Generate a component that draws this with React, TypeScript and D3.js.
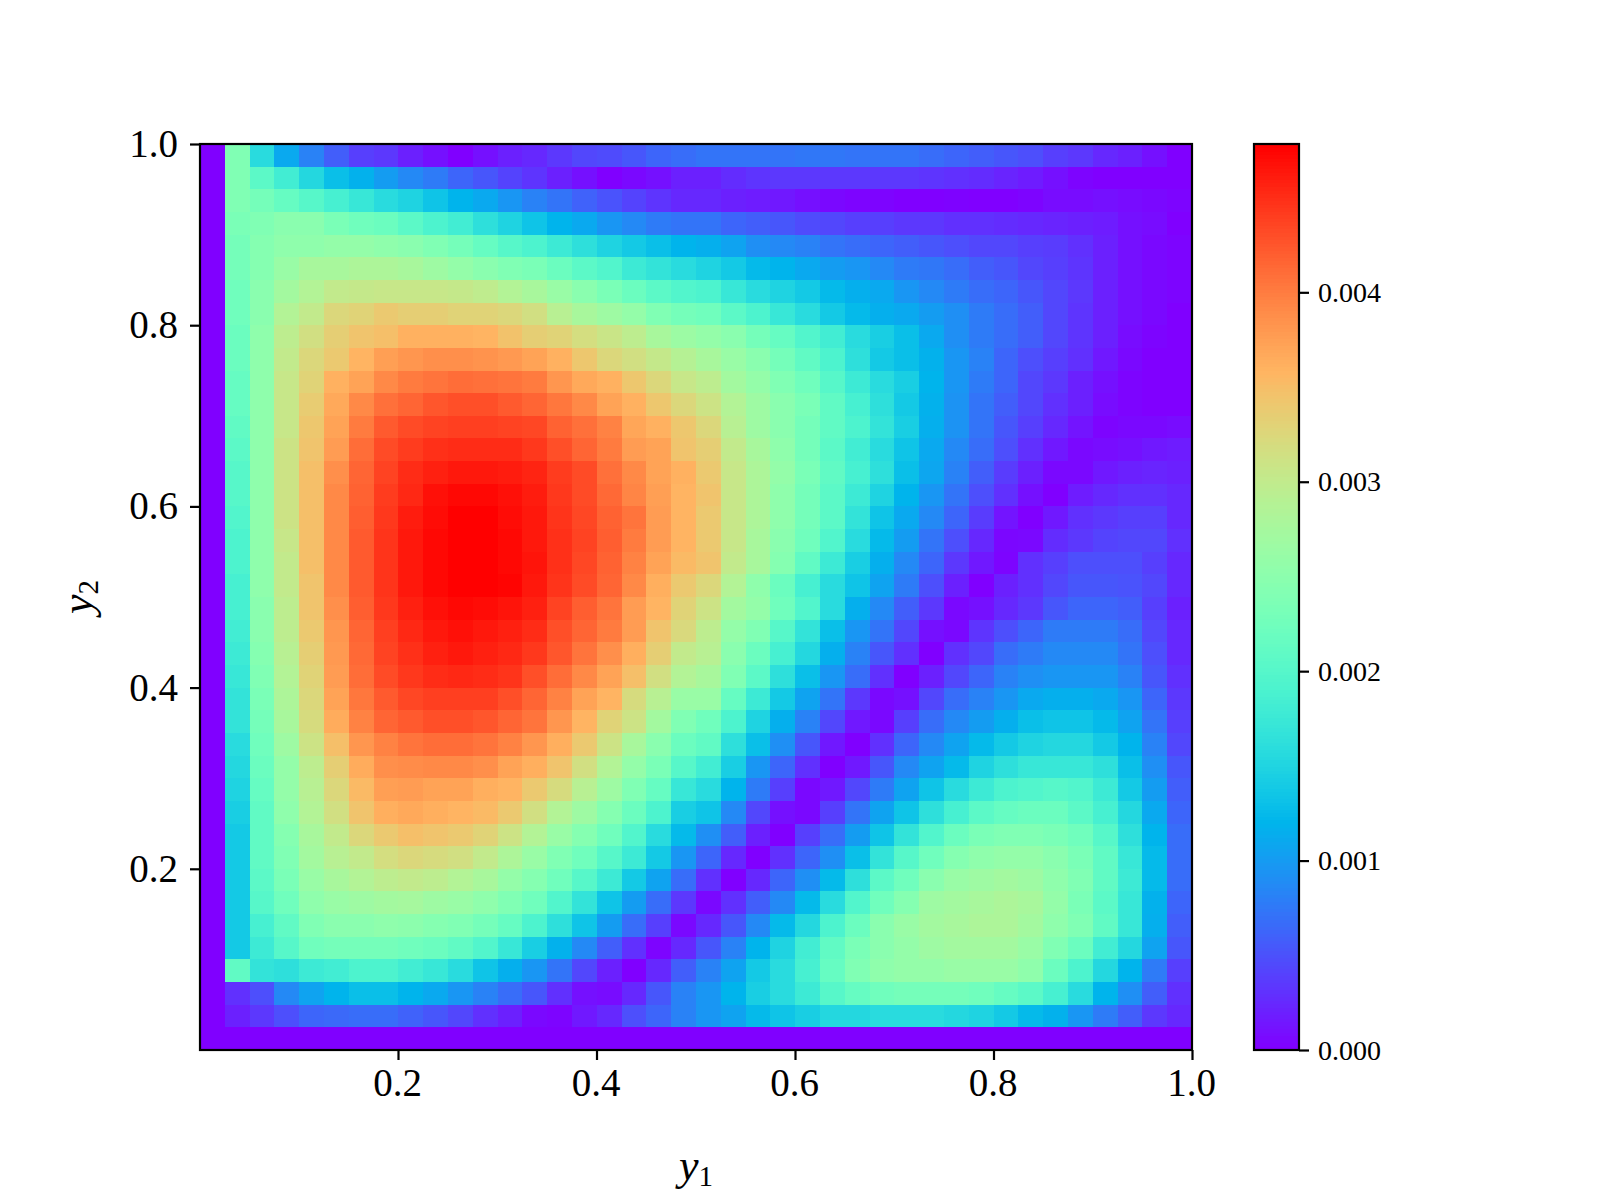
import React, { useEffect, useRef } from 'react';
import * as d3 from 'd3';

// cell values as percent of the colour range, top row first
const VMAX = 0.004783;
const cellRows: number[][] = [
  [0,50,33,23,17,12,8,7,4,2,0,2,4,5,7,9,9.5,11,13,14,15,15,15,15,15.5,15.5,15,15,15,14,13,12,11,10,8,7,5,4,2,0],
  [0,50,43,38,32,27,24.5,21,18,16,13,11,8.5,6.5,4,2,0,1,2,4,4,5.5,6.5,7,7,7,7,7,7,6.5,6,5.5,4.5,3.5,2,0.5,0,0,0,0],
  [0,50,48,45,42,39,36,33,31,28,25,23,20,17,15,12.5,10.5,8.5,6.5,5,5,4,3.5,3,2,1,0.5,0.5,0,0,0.3,0,0,0.5,1.5,1.5,2,1.5,1,0.5],
  [0,49,50,52,52,49,47,46,43,40,38,34,31,28,25,23,20,18,16,15,15,13,12,11,9.5,9,8,8,7,7,6,6,5.5,5,4.5,4,3.5,2,1.5,0],
  [0,48,51,53,53,54,54,53,52,50,48,45,42,40,37,34,31,29,27,25,24,22,19,18,17,15,14,13,12,11,10,9,9,8,7.5,6,4,2,1,0.5],
  [0,48,51,55,58,58,59,59,58,56,54,52,50,49,46,43,41,37,35,33,31,29,26,25,23,21,20,18,16,15.5,14,12,11,9,8,6.5,4,2,1,0.5],
  [0,47,52,57,60,63,63.5,64,64,64,63.5,62.5,60,58,55,52,49,46,43,41,40,36,33,31,29,26,24,23,20,18,16,14,13,11,9,7,4,2,1,0.5],
  [0,47,52,60,63,68,69,71,70,70,69,69,68,66,61,58,56,54,50,48,47,43,40,36,33,29,26,24,23,21,19,16,14,12,9,6.5,4,2,1,0],
  [0,46,53,62,66,70,72,73,75.5,75.5,75.5,75,72.5,70,69,66.5,64.5,62,58,55.5,54,52,48,45,41,38,33,30,27,23,19,16,14,12,9,6.5,4,1.5,0.5,0],
  [0,46,53,63,68,71,75,78.5,80,81,81,80.5,79.5,78,75.5,71.5,68,66,63.5,60.5,58,55,52,48,44,40,34,29,27,24.5,20,17,13,10,8,6,3,1,0,0],
  [0,45,53,64,69,75.5,78,82,84,85,86,85.5,85,84,80,77,75.5,71.5,68,64,62,57,54,50,47,42,37,33,30,25,20,16,13,9,7,4,2,0.5,0,0],
  [0,45,53,64,70.5,77,82,85.5,87,89,90,90,88.5,87,84.5,82,78,75.5,71.5,68,65,60,56,52,49,44,39,34,29,24.5,19.5,15,12,9,6,4,1.5,0.5,0,0],
  [0,44,53,64,71.5,78,84,88.5,90.5,91.5,92,92,91.5,91,87.5,85.5,83,77.5,75.5,71.5,68,61,56,52,48,44,40,35,30,24,19.5,15,11,8,5,2.5,0.5,1,1,1.5],
  [0,43,53,65,72,79,86,90.5,92.5,94,94.5,94.5,94.5,93,90,87,84,79,78,72,70,63,58,53,48,43,38,33,28,23,18,14,10,6,3,1,1.5,2,3,3.5],
  [0,42,53,65,73,81,87,91.5,94.5,96,97,97,96.5,95.5,92.5,90.5,85.5,82,78,75.5,71,64,59,54,49,44,39,34,27,22.5,17,12,7.5,4,1,1,3,4,4.5,4],
  [0,42,53,65,73,82,87.5,92.5,95,98,99,99,98,96.5,93,90.5,86.5,82.5,78.5,75,72,64,59,53,48,43,37,31,25,20,15,10,6,2,0,3.5,5,6,6,5],
  [0,41,53,65,73,82,88,93,96.5,98.5,100,100,98.5,97,93.5,91,87.5,85,79,75,71,64,59,53,48,43,35,28,23,18,13,7.5,2.5,0,3,6,7,8,8,5],
  [0,40,53,64,73,82,88.5,93.5,97,99,100,100,99,97,94,91.5,88,84,79,75,71,64,58,52,47,41,33,26,21,15,10,5,0.8,1,5.5,7,8.5,9,9,6],
  [0,40,53,63,73,82,88.5,93.5,97,99,100,100,99,97.5,94,91,87.5,83,78,74,72,63,58,51,44,37,30,24,18,13,7,3,0.5,6,8,10,10,10,8,5],
  [0,39,53,63,72,82,88.5,93.5,97,99,100,100,99.5,97,93.5,90.5,87,82,76,71,68,60,53,46,39,33,28,22,16,10,4,0,4,6,9,11,11,10.5,9,5],
  [0,39,52,62,72,81,88,93,96,98,99,98.5,97.5,96,91.5,88,85,79,75,69,65,57,54,47,41,33,24,18,12,7,1,2,5,7,11,13,13,12,8,4],
  [0,38,52,62,71,80,87,92,95,97,98,97,96,94.5,90,87,84,79,72,67.5,62,54,50,42,35,27,20,15,9,2,1,6.5,10,13,16,16,16,14,9,5],
  [0,37,51,61,70,79.5,86.5,91.5,94,96,97,96,95,93,89,85,81,76,70,63,61,52,46,39,32,24,17,11,6,0,6,9,14,16,18,18,18,15,10,5],
  [0,36,50,60,69,79,86,90.5,93,94.5,95,94.5,93.5,90,86,82,78,73,66,60,58,50,43,34,27,20,14,6,0,4,9,13,17,19,20,20,20,17,11,6],
  [0,35,49,59,68,78,84.5,88.5,91,92,92,92,90,87,83,78,75,67,61,55,55,45,37,29,22,15,7,1,2,9,14,17,20,23,24,24,23,20,13,7],
  [0,35,48,58,67,76.5,83,87,88.5,90,90,89,87,85,80,75,69,65,57,50,47,40,31,24,17,9,3,1,8,14,18,21,24,27,28,28,26,22,15,8],
  [0,33,47,56,65,73,80,83,85,86,86,85,83,80,76,71,65,58,52,46,44,34,27,19,11,3,0,6,13,18,22,26,29,31,32,32,29,25,17,9],
  [0,32,46,54,62,70,76.5,81,81.5,82,82,81,78,76,72,66,60,54,49,42,38,30,20,13,6,0,3,11,18,22,26,31,34,36,36,36,34,27,19,11],
  [0,31,45,54,61,68,74,78.5,79,78,78,76,75,71,67,61,56,50,45,36,33,25,16,8,1,3,9,16,22,28,33,37,40,41,42,41,37,29,21,12],
  [0,30,44,53,60,66,72,76,77,76,75,74,71,66,60,56,51,46,40,30,28,18,9,2,1,8,15,22,28,34,39,43,45,46,46,43,39,32,23,13],
  [0,29,44,51,58,63,68,71,73,72,71,69,65,60,55,51,47,41,33,26,19,12,4,0,8,14,21,28,35,41,46,49,50,50,49,47,42,34,25,14],
  [0,29,44,50,57,61,63,66.5,68,67,66,63,59,55,50,47,42,37,29,20,13,5,0,6,13,19,27,35,42,47,51,53,54,54,52,49,44,36,26,14],
  [0,29,43,49,55,58,60,62,63,62,60,58,54,51,47,42,37,29,22,14,6,0,5,13,19,26,34,43,47,52,55,56,57,56,53,50,44,37,26,14],
  [0,29,42,47,53,55,56,57,57.5,56,55,53,50,47,41,35,28,21,14,7,1,6,12,18,26,33,41,47,51,56,57,58,59,58,54,49,43,36,24.5,13],
  [0,29,39,44,50,52,52,53,52.5,51,50,48,45,40,34,28,21,14,8,1,5,11,18,26,32,40,46,52,55,57,58,59,59,57,53,50,44,36,24,12],
  [0,29,37,42,47,48,48,48,47,46,44,41,36,30,24.5,18,12,6,0.5,5,11,17,25,31,38,44,49,52,54,56,57,57,57,55,50,46,38,32,22,11],
  [0,44,35,34,37,38,40,40,38,36,33,28,24,20,15,9,4,0,5,12,17,22,29,33,39,45,50,53,54,54,55,55,55,53,46,40,32,25,16,8],
  [0,6,10,18,22,25,27,27,25,23,20,17,14,11,6,2,1.5,5,11,17,20,25,30,33,37,42,45,47,48,48,48,47,45,43,39,33,25,19,12,6],
  [0,4,7,10,13,13.5,14,14,12.5,11,9,6,4,1,0.5,3,5,10,13,17,20,22,26,28,30,32,32,33,33,33,32,31,29,26,24.5,20,16,12,7,5],
  [0,0,0,0,0,0,0,0,0,0,0,0,0,0,0,0,0,0,0,0,0,0,0,0,0,0,0,0,0,0,0,0,0,0,0,0,0,0,0,0],
];

const axisTicks = [0.2, 0.4, 0.6, 0.8, 1.0];
const colorbarTicks = [0, 0.001, 0.002, 0.003, 0.004];

// matplotlib "rainbow"
const rainbow = (t: number) => {
  const r = Math.min(1, Math.abs(2 * t - 0.5));
  const g = Math.sin(Math.PI * t);
  const b = Math.cos((Math.PI * t) / 2);
  return d3.rgb(r * 255, g * 255, b * 255).formatHex();
};

const SERIF = '"Liberation Serif", serif';

const App: React.FC = () => {
  const svgRef = useRef<SVGSVGElement>(null);

  useEffect(() => {
    const svg = d3.select(svgRef.current);
    svg.selectAll('*').remove();

    const left = 200, right = 1192, top = 144, bottom = 1050;
    const barLeft = 1254, barRight = 1299;

    const color = d3.scaleSequential(rainbow).domain([0, VMAX]);
    const x = d3.scaleLinear().domain([0.0005, 1]).range([left, right]);
    const y = d3.scaleLinear().domain([0, 1]).range([bottom, top]);
    const col = d3.scaleLinear().domain([0, 40]).range([left, right]);
    const row = d3.scaleLinear().domain([0, 40]).range([top, bottom]);
    const barY = d3.scaleLinear().domain([0, VMAX]).range([bottom, top]);

    // heatmap cells
    svg.append('g')
      .attr('shape-rendering', 'crispEdges')
      .selectAll('g')
      .data(cellRows)
      .join('g')
      .each(function (values, i) {
        d3.select(this)
          .selectAll('rect')
          .data(values)
          .join('rect')
          .attr('x', (_, j) => col(j))
          .attr('y', row(i))
          .attr('width', col(1) - col(0) + 0.5)
          .attr('height', row(1) - row(0) + 0.5)
          .attr('fill', d => color((d / 100) * VMAX));
      });

    // colorbar
    const levels = d3.range(256);
    svg.append('g')
      .attr('shape-rendering', 'crispEdges')
      .selectAll('rect')
      .data(levels)
      .join('rect')
      .attr('x', barLeft)
      .attr('width', barRight - barLeft)
      .attr('y', d => barY(((d + 1) / 256) * VMAX))
      .attr('height', (bottom - top) / 256 + 0.5)
      .attr('fill', d => rainbow(d / 255));

    // frames
    svg.append('rect')
      .attr('x', left).attr('y', top)
      .attr('width', right - left).attr('height', bottom - top)
      .attr('fill', 'none').attr('stroke', 'black').attr('stroke-width', 2.2);
    svg.append('rect')
      .attr('x', barLeft).attr('y', top)
      .attr('width', barRight - barLeft).attr('height', bottom - top)
      .attr('fill', 'none').attr('stroke', 'black').attr('stroke-width', 2.2);

    const styleAxis = (g: any, size: number) => {
      g.select('.domain').remove();
      g.selectAll('line').attr('stroke', 'black').attr('stroke-width', 2.2);
      g.selectAll('text')
        .attr('fill', 'black')
        .style('font-family', SERIF)
        .style('font-size', `${size}px`);
    };

    const xAxis = svg.append('g')
      .attr('transform', `translate(0,${bottom})`)
      .call(d3.axisBottom(x).tickValues(axisTicks).tickFormat(d3.format('.1f')).tickSize(10));
    styleAxis(xAxis, 39);
    xAxis.selectAll('text').attr('x', -1).attr('y', 46).attr('dy', 0);

    const yAxis = svg.append('g')
      .attr('transform', `translate(${left},0)`)
      .call(d3.axisLeft(y).tickValues(axisTicks).tickFormat(d3.format('.1f')).tickSize(10));
    styleAxis(yAxis, 39);
    yAxis.selectAll('text').attr('x', -22).attr('dy', 12.5);

    const barAxis = svg.append('g')
      .attr('transform', `translate(${barRight},0)`)
      .call(d3.axisRight(barY).tickValues(colorbarTicks).tickFormat(d3.format('.3f')).tickSize(10));
    styleAxis(barAxis, 28);
    barAxis.selectAll('text').attr('x', 19).attr('dy', 9);

    // axis labels, y with subscript
    const addLabel = (sub: string, transform: string) => {
      const t = svg.append('text')
        .attr('transform', transform)
        .attr('text-anchor', 'middle')
        .attr('fill', 'black')
        .style('font-family', SERIF)
        .style('font-size', '44px');
      t.append('tspan').style('font-style', 'italic').text('y');
      t.append('tspan').attr('dy', 6).style('font-size', '29px').text(sub);
    };
    addLabel('1', 'translate(696,1180)');
    addLabel('2', 'translate(92,597) rotate(-90)');
  }, []);

  return (
    <svg
      ref={svgRef}
      width={1600}
      height={1200}
      style={{ position: 'absolute', left: 0, top: 0, background: 'white' }}
    />
  );
};

export default App;
